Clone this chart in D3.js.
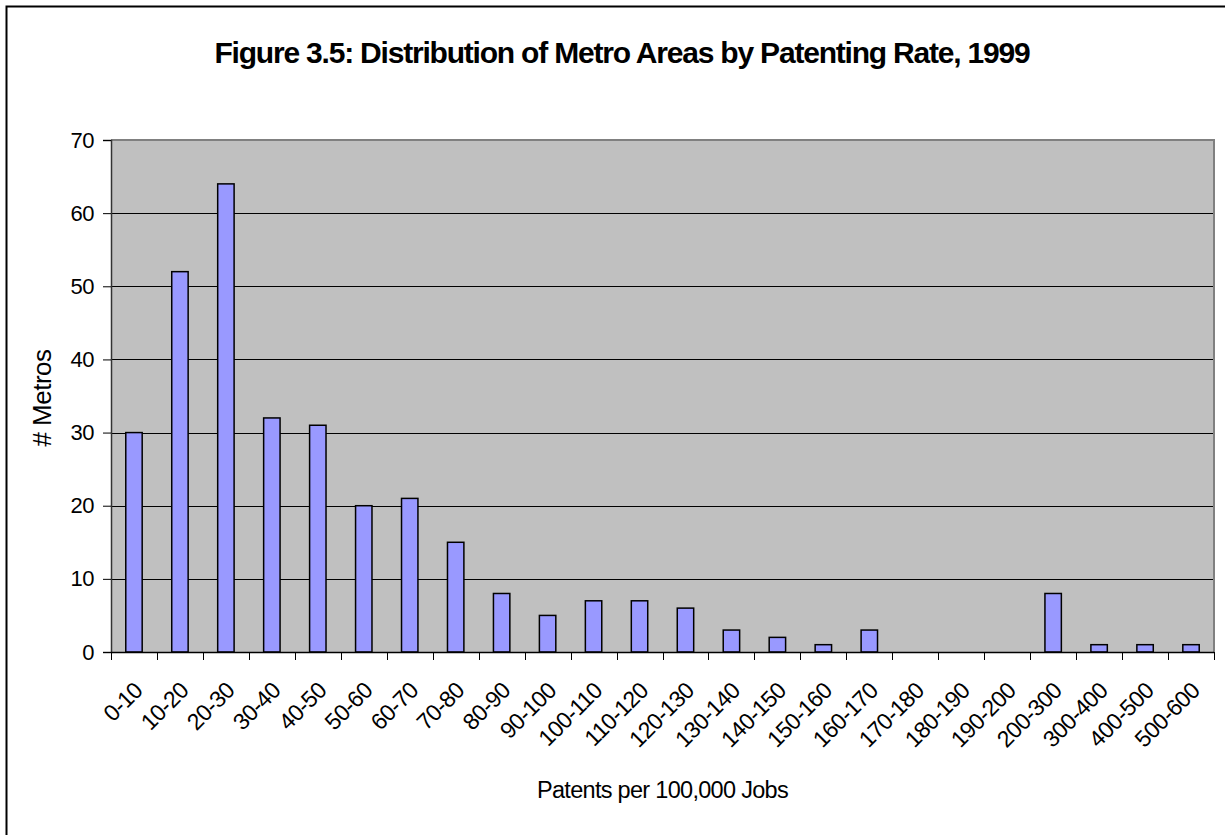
<!DOCTYPE html>
<html>
<head>
<meta charset="utf-8">
<script src="https://cdn.jsdelivr.net/npm/d3@7"></script>
<style>
  html, body { margin: 0; padding: 0; background: #fff; }
  svg { display: block; }
  text { font-family: "Liberation Sans", Arial, sans-serif; fill: #000; }
</style>
</head>
<body>
<svg id="chart" width="1225" height="835"></svg>
<script>
// Patenting-rate bins (patents per 100,000 jobs) and number of metros in each
const categories = ["0-10","10-20","20-30","30-40","40-50","50-60","60-70","70-80","80-90","90-100",
  "100-110","110-120","120-130","130-140","140-150","150-160","160-170","170-180","180-190","190-200",
  "200-300","300-400","400-500","500-600"];
const metros = [30, 52, 64, 32, 31, 20, 21, 15, 8, 5, 7, 7, 6, 3, 2, 1, 3, 0, 0, 0, 8, 1, 1, 1];
const yTicks = [0, 10, 20, 30, 40, 50, 60, 70];

const titleText = "Figure 3.5: Distribution of Metro Areas by Patenting Rate, 1999";
const xTitle = "Patents per 100,000 Jobs";
const yTitle = "# Metros";

const svg = d3.select("#chart");
const plot = { left: 111, right: 1214, top: 140, bottom: 652 };

// outer chart frame
svg.append("rect")
  .attr("x", 6.5).attr("y", 6.5)
  .attr("width", 1240).attr("height", 850)
  .attr("fill", "#fff").attr("stroke", "#000").attr("stroke-width", 2);

const x = d3.scaleBand()
  .domain(categories)
  .range([plot.left, plot.right])
  .paddingInner(0)
  .paddingOuter(0);

const y = d3.scaleLinear().domain([0, 70]).range([plot.bottom, plot.top]);

// plot area background
svg.append("rect")
  .attr("x", plot.left).attr("y", plot.top)
  .attr("width", plot.right - plot.left).attr("height", plot.bottom - plot.top)
  .attr("fill", "#C0C0C0");

// horizontal gridlines
svg.append("g").selectAll("line")
  .data(yTicks.filter(d => d > 0 && d < 70))
  .join("line")
  .attr("x1", plot.left).attr("x2", plot.right)
  .attr("y1", d => Math.round(y(d)) + 0.5).attr("y2", d => Math.round(y(d)) + 0.5)
  .attr("stroke", "#000").attr("stroke-width", 1);

// plot border (top / right)
svg.append("path")
  .attr("d", `M${plot.left},${plot.top} H${plot.right} V${plot.bottom}`)
  .attr("fill", "none").attr("stroke", "#808080").attr("stroke-width", 2);

// bars
const barW = x.bandwidth() / 2.8;
svg.append("g").selectAll("rect")
  .data(metros.map((v, i) => ({ cat: categories[i], v })).filter(d => d.v > 0))
  .join("rect")
  .attr("x", d => x(d.cat) + (x.bandwidth() - barW) / 2)
  .attr("y", d => y(d.v))
  .attr("width", barW)
  .attr("height", d => y(0) - y(d.v))
  .attr("fill", "#9999FF")
  .attr("stroke", "#000")
  .attr("stroke-width", 1.5);

// y axis
const yAxis = svg.append("g")
  .attr("transform", `translate(${plot.left},0)`)
  .call(d3.axisLeft(y).tickValues(yTicks).tickSize(8).tickPadding(9).tickFormat(d3.format("d")));
yAxis.select(".domain").attr("stroke", "#333").attr("stroke-width", 1.5);
yAxis.selectAll(".tick line").attr("stroke", "#000");
yAxis.selectAll(".tick text")
  .attr("font-size", 22)
  .attr("letter-spacing", -0.5)
  .attr("font-family", "Liberation Sans, Arial, sans-serif")
  .attr("fill", "#000");

// x axis with ticks at band boundaries
const xAxisG = svg.append("g");
xAxisG.append("line")
  .attr("x1", plot.left).attr("x2", plot.right)
  .attr("y1", plot.bottom + 0.5).attr("y2", plot.bottom + 0.5)
  .attr("stroke", "#000").attr("stroke-width", 1.5);
const bounds = categories.map(c => x(c)).concat([plot.right]);
xAxisG.selectAll("line.tk")
  .data(bounds)
  .join("line")
  .attr("class", "tk")
  .attr("x1", d => Math.round(d) + 0.5).attr("x2", d => Math.round(d) + 0.5)
  .attr("y1", plot.bottom).attr("y2", plot.bottom + 8)
  .attr("stroke", "#000").attr("stroke-width", 1);

xAxisG.selectAll("text")
  .data(categories)
  .join("text")
  .attr("transform", d => `translate(${x(d) + x.bandwidth() / 2 + 10},${plot.bottom + 40}) rotate(-45)`)
  .attr("text-anchor", "end")
  .attr("font-size", 23)
  .attr("letter-spacing", -0.6)
  .text(d => d);

// titles
svg.append("text")
  .attr("x", 622).attr("y", 63)
  .attr("text-anchor", "middle")
  .attr("font-size", 30)
  .attr("font-weight", "bold")
  .attr("letter-spacing", -1.2)
  .text(titleText);

svg.append("text")
  .attr("x", (plot.left + plot.right) / 2).attr("y", 798)
  .attr("text-anchor", "middle")
  .attr("font-size", 23.5)
  .attr("letter-spacing", -0.7)
  .text(xTitle);

svg.append("text")
  .attr("transform", `translate(51,398) rotate(-90)`)
  .attr("text-anchor", "middle")
  .attr("font-size", 26)
  .attr("letter-spacing", -0.5)
  .text(yTitle);
</script>
</body>
</html>
